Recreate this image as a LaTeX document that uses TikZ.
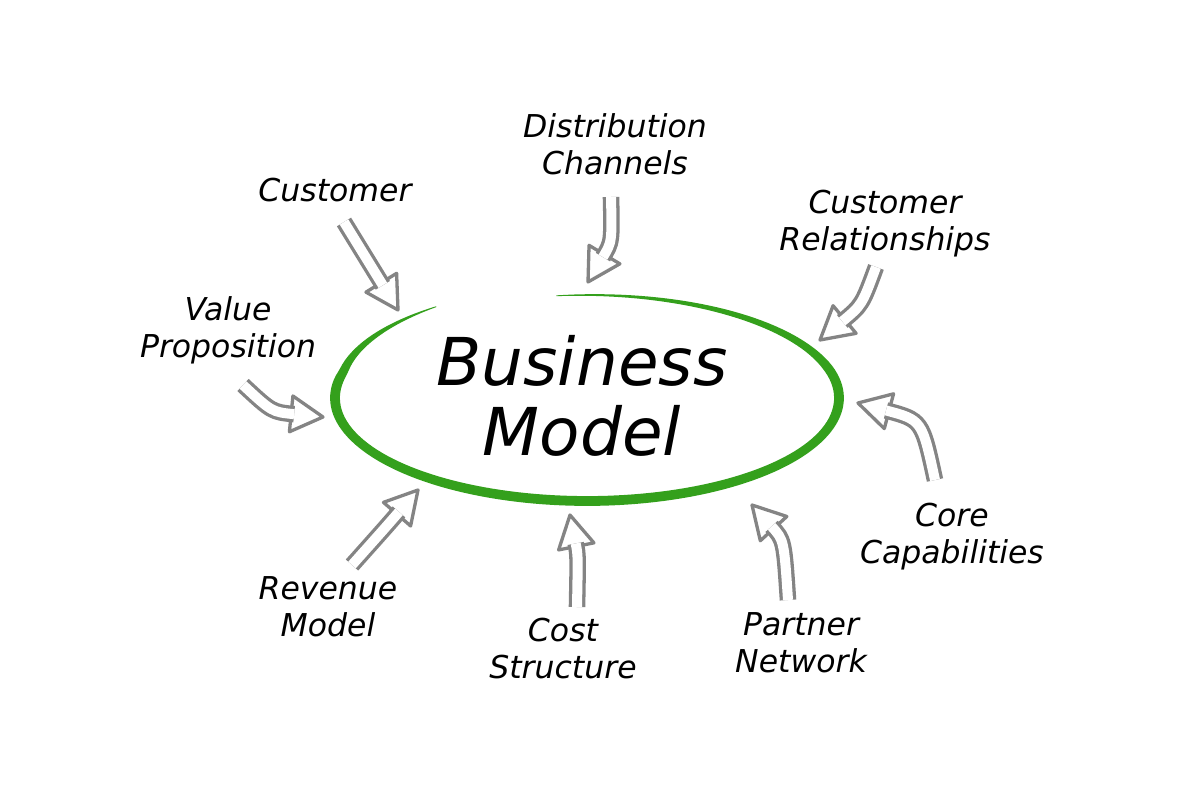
\documentclass[tikz,border=0pt]{standalone}
\usepackage{fontspec}
\setmainfont{DejaVu Sans}
\usetikzlibrary{calc}
\definecolor{bmgreen}{RGB}{52,160,28}
\definecolor{arrowgray}{RGB}{132,132,132}
\newcommand\hollowarrow[4]{%
  \coordinate (#1b) at ($(#4)!32pt!(#3)$);
  \coordinate (#1e) at ($(#4)!29pt!(#3)$);
  \draw[headline] ($(#1b)!18pt!90:(#4)$) -- (#4) -- ($(#1b)!18pt!-90:(#4)$) -- cycle;
  \draw[shaftline] (#2) .. controls (#3) .. (#1e);
}
\begin{document}
\begin{tikzpicture}[x=1pt,y=-1pt,
  declare function={bw(\t)=9*min(1,(\t-124)/45,(457-\t)/80)+0.8;
                    sf(\t)=1+0.07*max(0,(165-\t)/41);},
  lbl/.style={font=\fontsize{31.5}{37}\selectfont\itshape, align=center, inner sep=0pt},
  big/.style={font=\fontsize{66}{70}\selectfont\itshape, align=center, inner sep=0pt},
  headline/.style={draw=arrowgray, line width=3.3pt, line join=round, fill=white},
  shaftline/.style={draw=arrowgray, line width=3.3pt, double=white, double distance=10pt, line cap=butt}]
\fill[white] (0,0) rectangle (1200,800);
\useasboundingbox (0,0) rectangle (1200,800);

% green hand-drawn ellipse
\fill[bmgreen] plot[domain=124:457, samples=160, variable=\t]
   ({587+sf(\t)*(252+bw(\t)/2)*cos(\t)}, {398-sf(\t)*(103+bw(\t)/2)*sin(\t)})
   -- plot[domain=457:124, samples=160, variable=\t]
   ({587+sf(\t)*(252-bw(\t)/2)*cos(\t)}, {398-sf(\t)*(103-bw(\t)/2)*sin(\t)}) -- cycle;

% center text
\node[big] (bm) at (582,396) {Business\\Model};

% labels
\node[lbl] (dist) at (615,144) {Distribution\\Channels};
\node[lbl] (cust) at (335,190) {Customer};
\node[lbl] (crel) at (885,224) {Customer\\Relationships};
\node[lbl] (vp)   at (228,330) {Value\\Proposition};
\node[lbl] (core) at (952,537) {Core\\Capabilities};
\node[lbl] (rev)  at (328,607) {Revenue\\Model};
\node[lbl] (cost) at (563,649) {Cost\\Structure};
\node[lbl] (part) at (801,643) {Partner\\Network};

% arrow coordinates
\coordinate (a1s) at (344,222); \coordinate (a1c) at (371,266); \coordinate (a1t) at (398,310);
\coordinate (a2s) at (611,197); \coordinate (a2c) at (612,242); \coordinate (a2t) at (588,282);
\coordinate (a3s) at (876,267); \coordinate (a3c) at (862,305); \coordinate (a3t) at (820,340);
\coordinate (a4s) at (243,385); \coordinate (a4c) at (272,412); \coordinate (a4t) at (323,417);
\coordinate (a5s) at (935,480); \coordinate (a5c) at (922,420); \coordinate (a5t) at (858,403);
\coordinate (a6s) at (352,565); \coordinate (a6c) at (385,528); \coordinate (a6t) at (418,490);
\coordinate (a7s) at (577,607); \coordinate (a7c) at (578,555); \coordinate (a7t) at (570,515);
\coordinate (a8s) at (788,600); \coordinate (a8c) at (784,540); \coordinate (a8t) at (752,505);

\hollowarrow{a1}{a1s}{a1c}{a1t}
\hollowarrow{a2}{a2s}{a2c}{a2t}
\hollowarrow{a3}{a3s}{a3c}{a3t}
\hollowarrow{a4}{a4s}{a4c}{a4t}
\hollowarrow{a5}{a5s}{a5c}{a5t}
\hollowarrow{a6}{a6s}{a6c}{a6t}
\hollowarrow{a7}{a7s}{a7c}{a7t}
\hollowarrow{a8}{a8s}{a8c}{a8t}
\end{tikzpicture}
\end{document}
